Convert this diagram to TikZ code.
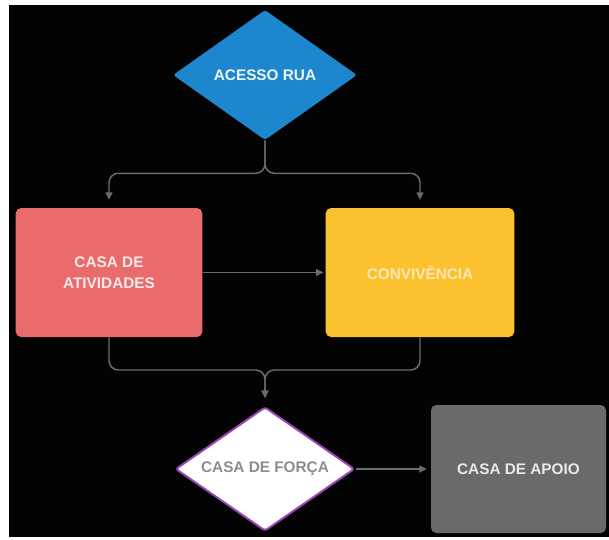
\documentclass[tikz,border=0pt]{standalone}
\usepackage{fontspec}
\setmainfont{Liberation Sans}
\usetikzlibrary{shapes.geometric,arrows.meta,calc}
\definecolor{bgblack}{HTML}{030303}
\definecolor{cblue}{HTML}{1C86CF}
\definecolor{cred}{HTML}{E96B6B}
\definecolor{cyellow}{HTML}{FBC12F}
\definecolor{cgray}{HTML}{6A6A6A}
\definecolor{cline}{HTML}{6C6C6C}
\definecolor{cpurple}{HTML}{9A45B8}
\begin{document}
\begin{tikzpicture}[x=0.75pt,y=-0.75pt,
  lbl/.style={font=\fontsize{11.5}{15.5}\selectfont\bfseries, align=center},
  dia/.style={diamond, shape aspect=1.4, inner sep=0pt, rounded corners=2pt, lbl},
  boxn/.style={rectangle, rounded corners=4pt, inner sep=0pt, lbl},
  conn/.style={draw=cline, line width=1.1pt, rounded corners=7pt, -{Triangle[length=5.5pt,width=5pt]}}
]
\fill[white] (0,0) rectangle (609,539);
\fill[bgblack] (9,5) rectangle (609,537);
\useasboundingbox (0,0) rectangle (609,539);

\node[dia, fill=cblue, text=white!92!cblue, minimum width=138pt, minimum height=97.5pt] (acc) at (265,75) {ACESSO RUA};
\node[boxn, fill=cred, text=white!85!cred, minimum width=139.9pt, minimum height=96.75pt] (ativ) at (109,272.5) {CASA DE\\ATIVIDADES};
\node[boxn, fill=cyellow, text=white!65!cyellow, minimum width=141.4pt, minimum height=96.75pt] (conv) at (420,272.5) {CONVIVÊNCIA};
\node[dia, fill=white, draw=cpurple, line width=1.5pt, text=black!45, minimum width=134.25pt, minimum height=93pt] (forca) at (265,469) {CASA DE FORÇA};
\node[boxn, fill=cgray, text=white!85!cgray, minimum width=131.25pt, minimum height=96pt] (apoio) at (518.5,469) {CASA DE APOIO};

\draw[conn, shorten >=6pt] (acc.south) -- ++(0,33) -| (ativ.north);
\draw[conn, shorten >=6pt] (acc.south) -- ++(0,33) -| (conv.north);
\draw[conn, shorten >=1.5pt] (ativ.east) -- (conv.west);
\draw[conn, shorten >=6pt] (ativ.south) |- ($(forca.north)+(0,-36)$) -- (forca.north);
\draw[conn, shorten >=6pt] (conv.south) |- ($(forca.north)+(0,-36)$) -- (forca.north);
\draw[conn, shorten >=3pt] (forca.east) -- (apoio.west);
\end{tikzpicture}
\end{document}
